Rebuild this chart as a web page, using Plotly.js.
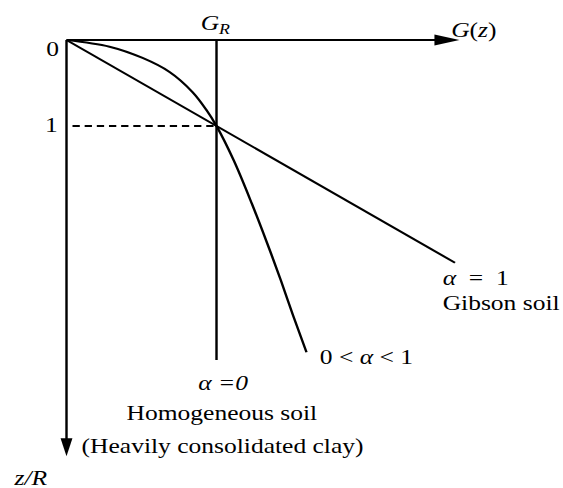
<!DOCTYPE html>
<html>
<head>
<meta charset="utf-8">
<script src="https://cdn.plot.ly/plotly-3.0.1.min.js"></script>
<style>
  html, body { margin: 0; padding: 0; background: #fff; overflow: hidden; }
  #wrap { width: 563px; height: 488px; overflow: hidden; }
  /* the figure is laid out narrow and widened horizontally */
  #chart { width: 463px; height: 488px; transform: scaleX(1.21598); transform-origin: 0 0; }
</style>
</head>
<body>
<div id="wrap"><div id="chart"></div></div>
<script>
// Shear modulus profiles G(z) against normalised depth z/R
// Axis extents (in units of G_R and R)
const gAxisTip = 2.62;
const zAxisTip = 4.84;

// alpha = 1 : Gibson soil (linear increase)
const gibsonG = [0, 2.59];
const gibsonZ = [0, 2.59];

// alpha = 0 : homogeneous soil (constant G_R)
const homogG = [1, 1];
const homogZ = [0, 3.72];

// 0 < alpha < 1 : intermediate profile
const midG = [0, 0.287, 0.507, 0.687, 0.84, 0.933, 1.0, 1.115, 1.235, 1.335, 1.43, 1.51, 1.6];
const midZ = [0, 0.078, 0.209, 0.372, 0.605, 0.814, 1.0, 1.4, 1.9, 2.35, 2.8, 3.2, 3.63];

// reference depth z = R
const refG = [0.04, 1];
const refZ = [1, 1];

// depth tick labels
const zTickVals = [0, 1];
const zTickText = ['0', '1'];

const ink = '#000';
const serif = 'Liberation Serif, Times New Roman, serif';

function line(x, y, extra) {
  return Object.assign({
    x: x, y: y, type: 'scatter', mode: 'lines', hoverinfo: 'skip',
    line: { color: ink, width: 2 }
  }, extra || {});
}

const traces = [
  // axis shafts
  line([0, gAxisTip - 0.13], [0, 0]),
  line([0, 0], [0, zAxisTip - 0.19]),
  line(gibsonG, gibsonZ),
  line(homogG, homogZ),
  line(midG, midZ, { line: { color: ink, width: 2, shape: 'spline', smoothing: 1 } }),
  line(refG, refZ, { line: { color: ink, width: 2, dash: '6px,4px' } })
];

const shapes = [
  // arrowheads, sized in pixels at the axis tips
  { type: 'path', xref: 'x', yref: 'y', xsizemode: 'pixel', ysizemode: 'pixel',
    xanchor: gAxisTip, yanchor: 0, path: 'M0,0L-20.6,5.5L-20.6,-5.5Z',
    fillcolor: ink, line: { width: 0 } },
  { type: 'path', xref: 'x', yref: 'y', xsizemode: 'pixel', ysizemode: 'pixel',
    xanchor: 0, yanchor: zAxisTip, path: 'M0,0L-4.9,18L4.9,18Z',
    fillcolor: ink, line: { width: 0 } }
];

function label(text, x, y, xanchor, extra) {
  return Object.assign({
    text: text, x: x, y: y, xref: 'x', yref: 'y', showarrow: false,
    xanchor: xanchor || 'center', yanchor: 'middle',
    font: { family: serif, size: 21, color: ink }
  }, extra || {});
}

const annotations = [
  label(zTickText[0], -0.09, zTickVals[0] + 0.11),
  label(zTickText[1], -0.097, zTickVals[1] - 0.012),
  label('<i>G<sub>R</sub></i>', 0.99, -0.185),
  label('<i>G</i>(<i>z</i>)', 2.55, -0.116, 'left'),
  label('<i>α</i>&nbsp; =&nbsp; 1', 2.49, 2.773, 'left', { height: 22 }),
  label('Gibson soil', 2.49, 3.06, 'left', { height: 22 }),
  label('0 < <i>α</i> < 1', 1.676, 3.686, 'left'),
  label('<i>α =0</i>', 1.043, 3.988),
  label('Homogeneous soil', 1.037, 4.337),
  label('(Heavily consolidated clay)', 1.043, 4.72),
  label('<i>z/R</i>', -0.243, 5.09, 'center', { height: 20 })
];

const layout = {
  width: 463, height: 488, autosize: false,
  margin: { l: 0, r: 0, t: 0, b: 0, pad: 0 },
  paper_bgcolor: '#fff', plot_bgcolor: '#fff',
  showlegend: false,
  xaxis: { range: [-66.5 / 150, (563 - 66.5) / 150], visible: false, fixedrange: true },
  yaxis: { range: [(488 - 40) / 86, -40 / 86], visible: false, fixedrange: true },
  shapes: shapes,
  annotations: annotations
};

Plotly.newPlot('chart', traces, layout, { staticPlot: true, displayModeBar: false });
</script>
</body>
</html>
